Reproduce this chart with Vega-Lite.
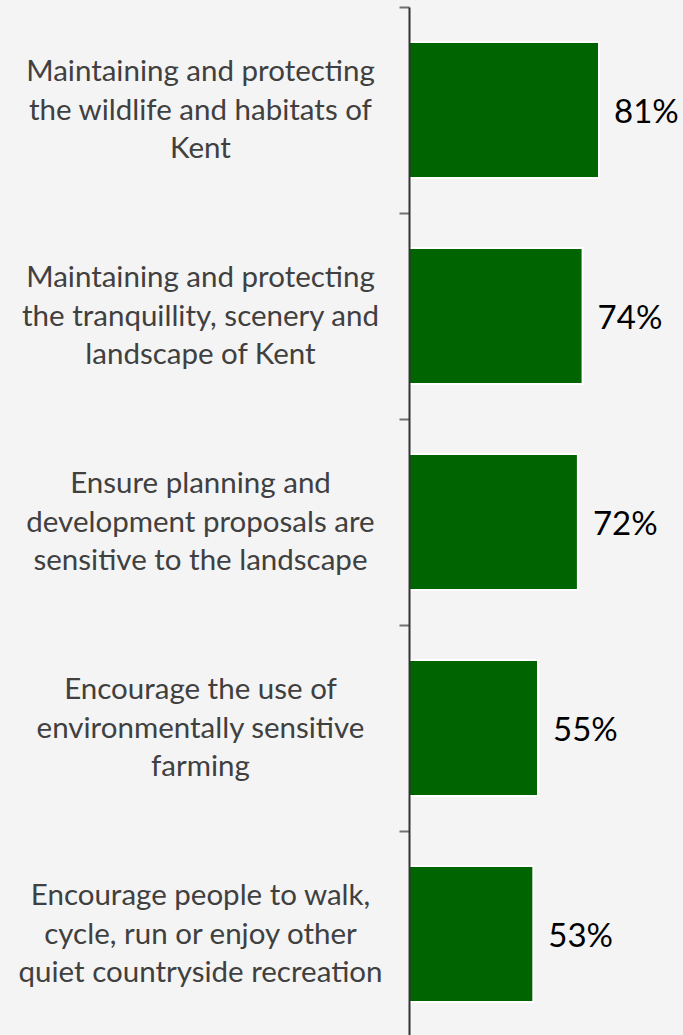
{
  "$schema": "https://vega.github.io/schema/vega-lite/v6.json",
  "autosize": "none",
  "width": 274,
  "height": 1030,
  "padding": {"left": 409, "top": 7, "right": 0, "bottom": 0},
  "background": "#f4f4f4",
  "config": {"view": {"stroke": null}},
  "data": {
    "values": [
      {"item": "Maintaining and protecting|the wildlife and habitats of|Kent", "share": 0.81},
      {"item": "Maintaining and protecting|the tranquillity, scenery and|landscape of Kent", "share": 0.74},
      {"item": "Ensure planning and|development proposals are|sensitive to the landscape", "share": 0.72},
      {"item": "Encourage the use of|environmentally sensitive|farming", "share": 0.55},
      {"item": "Encourage people to walk,|cycle, run or enjoy other|quiet countryside recreation", "share": 0.53}
    ]
  },
  "encoding": {
    "y": {
      "field": "item",
      "type": "nominal",
      "sort": null,
      "scale": {"paddingInner": 0.34, "paddingOuter": 0.17},
      "axis": {
        "title": null,
        "zindex": 1,
        "bandPosition": 0,
        "tickOffset": -35,
        "labelOffset": -3.5,
        "domainColor": "#333333",
        "domainWidth": 2,
        "tickColor": "#707070",
        "tickWidth": 2,
        "tickSize": 10,
        "labelExpr": "split(datum.label, '|')",
        "labelAlign": "center",
        "labelBaseline": "middle",
        "labelPadding": 199,
        "labelLineHeight": 38.5,
        "labelFont": "Lato",
        "labelFontSize": 29.5,
        "labelColor": "#404040",
        "labelLimit": 0
      }
    },
    "x": {
      "field": "share",
      "type": "quantitative",
      "scale": {"domain": [0, 1.168], "nice": false, "zero": true},
      "axis": null
    }
  },
  "layer": [
    {
      "mark": {"type": "bar", "color": "#006400", "stroke": "white", "strokeWidth": 2}
    },
    {
      "mark": {"type": "text", "align": "left", "baseline": "middle", "dx": 15, "dy": 3, "font": "Lato", "fontSize": 33, "color": "#000000"},
      "encoding": {"text": {"field": "share", "type": "quantitative", "format": ".0%"}}
    }
  ]
}
